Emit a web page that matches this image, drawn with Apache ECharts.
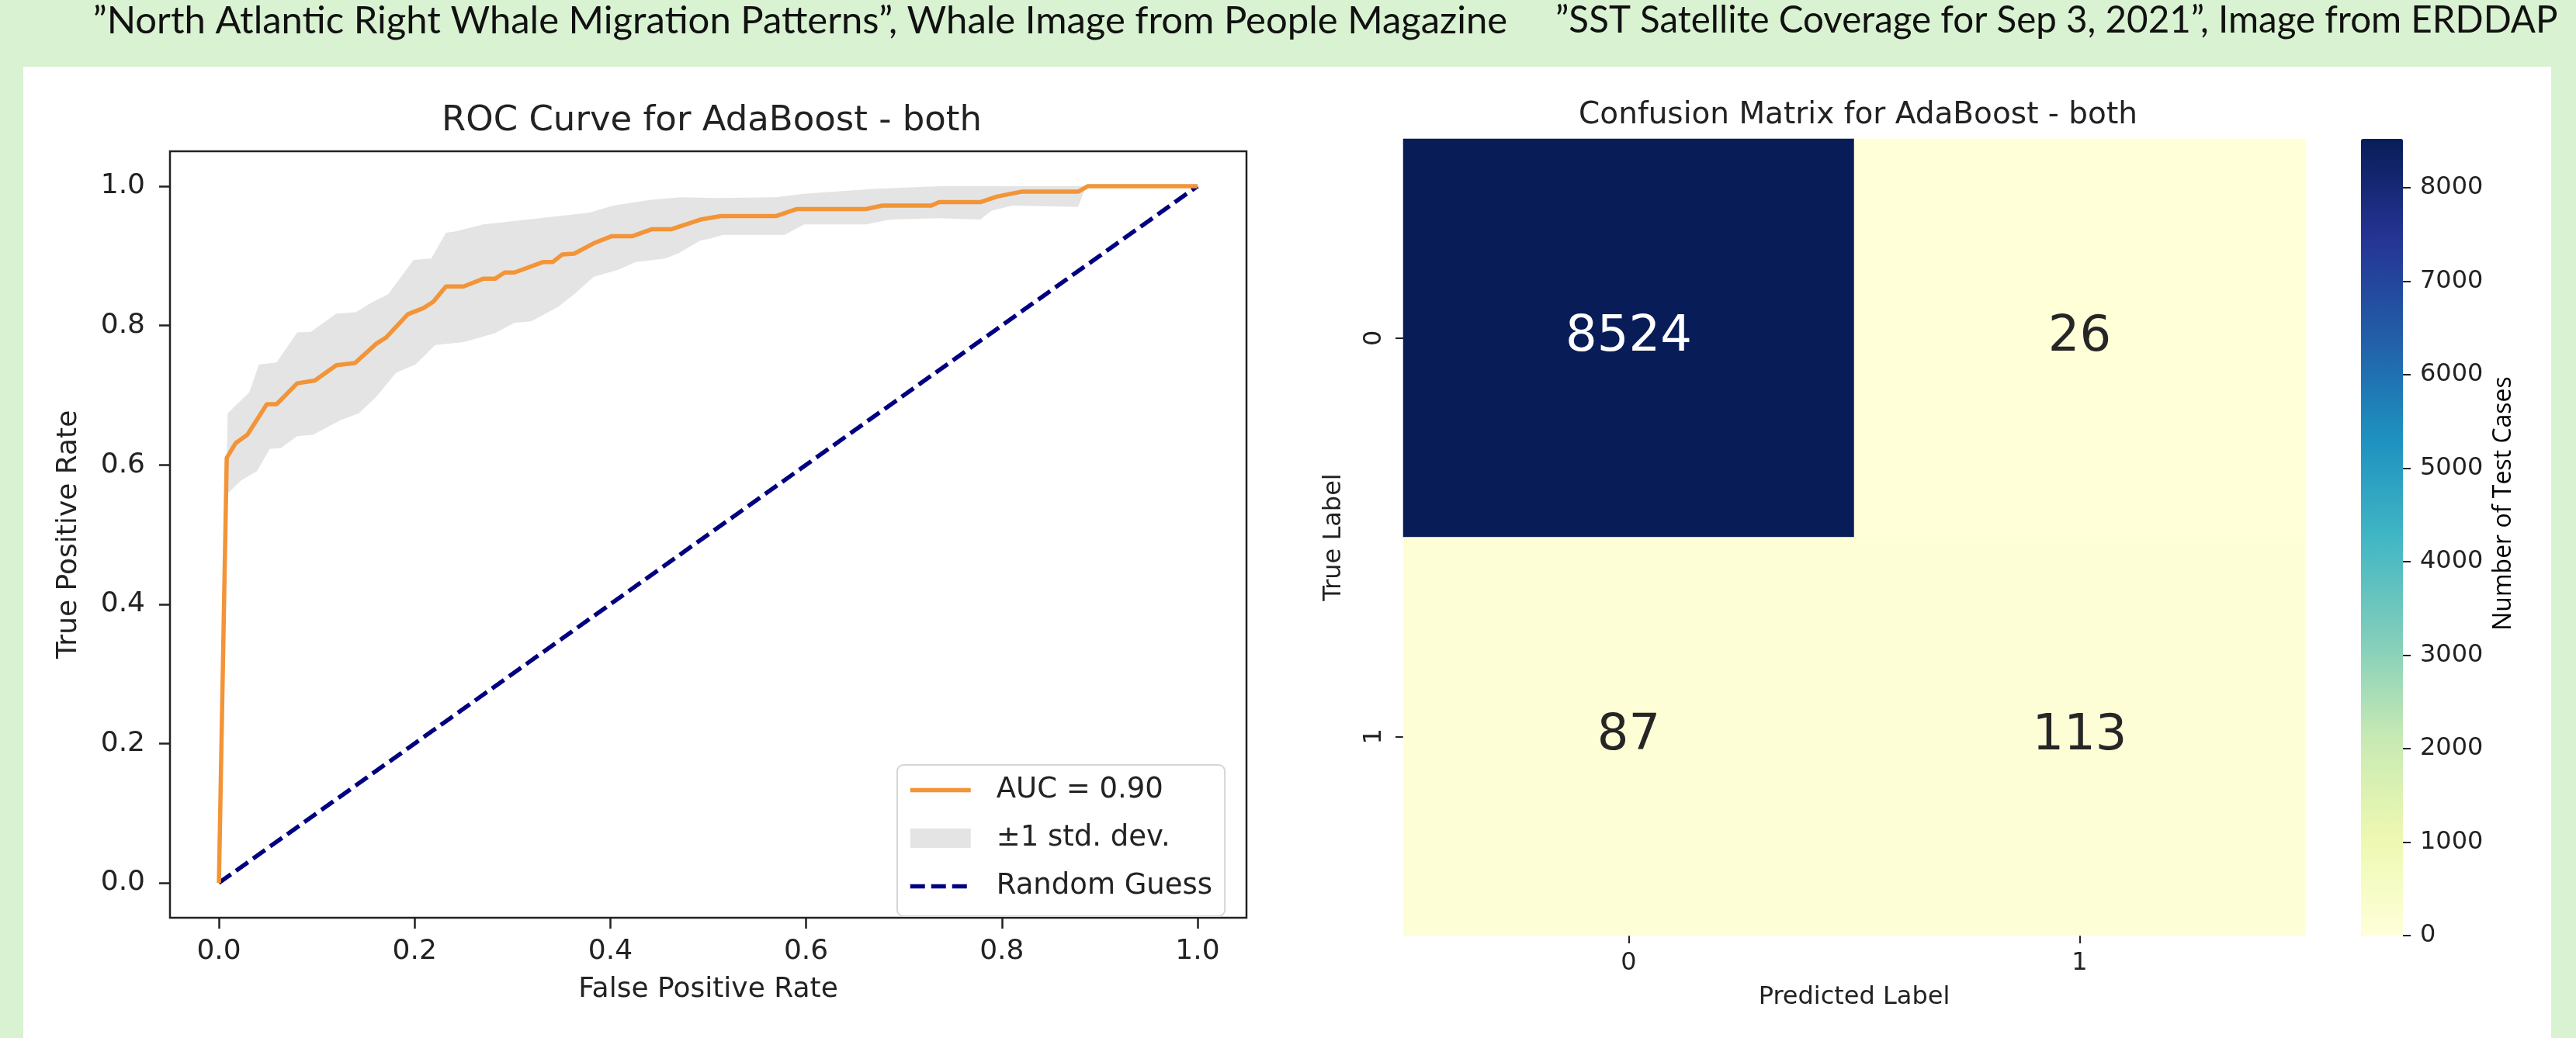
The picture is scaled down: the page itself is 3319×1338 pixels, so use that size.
<!DOCTYPE html>
<html>
<head>
<meta charset="utf-8">
<title>ROC Curve and Confusion Matrix for AdaBoost - both</title>
<script src="https://cdn.jsdelivr.net/npm/echarts@6/dist/echarts.min.js"></script>
<style>
  html, body { margin: 0; padding: 0; background: #d9f2d2; }
  #chart { width: 3319px; height: 1338px; }
</style>
</head>
<body>
<div id="chart"></div>
<script>
// mean ROC curve
const meanFpr = [0, 0.008, 0.017, 0.029, 0.049, 0.059, 0.080, 0.098, 0.120, 0.139, 0.161, 0.171, 0.193, 0.209, 0.219, 0.232, 0.250, 0.270, 0.282, 0.292, 0.302, 0.331, 0.341, 0.351, 0.363, 0.383, 0.401, 0.422, 0.442, 0.462, 0.492, 0.513, 0.569, 0.590, 0.661, 0.678, 0.728, 0.736, 0.778, 0.795, 0.820, 0.878, 0.888, 1.0];
const meanTpr = [0, 0.610, 0.631, 0.643, 0.687, 0.687, 0.717, 0.721, 0.743, 0.746, 0.774, 0.783, 0.816, 0.825, 0.834, 0.856, 0.856, 0.867, 0.867, 0.876, 0.876, 0.891, 0.891, 0.902, 0.903, 0.918, 0.928, 0.928, 0.938, 0.938, 0.952, 0.957, 0.957, 0.967, 0.967, 0.972, 0.972, 0.977, 0.977, 0.985, 0.992, 0.992, 1.0, 1.0];

// +-1 std. dev. band edges
const upperFpr = [0, 0.009, 0.031, 0.041, 0.059, 0.080, 0.094, 0.120, 0.140, 0.155, 0.173, 0.199, 0.217, 0.232, 0.242, 0.270, 0.290, 0.323, 0.379, 0.403, 0.440, 0.472, 0.509, 0.569, 0.598, 0.669, 0.736, 0.888, 1.0];
const upperTpr = [0, 0.674, 0.704, 0.744, 0.747, 0.790, 0.791, 0.817, 0.819, 0.832, 0.845, 0.894, 0.896, 0.933, 0.935, 0.945, 0.948, 0.953, 0.962, 0.972, 0.980, 0.984, 0.983, 0.984, 0.989, 0.996, 1.0, 1.0, 1.0];
const lowerFpr = [0, 0.009, 0.023, 0.039, 0.052, 0.063, 0.080, 0.096, 0.124, 0.143, 0.161, 0.181, 0.201, 0.221, 0.250, 0.282, 0.302, 0.319, 0.347, 0.363, 0.383, 0.408, 0.426, 0.456, 0.470, 0.492, 0.503, 0.515, 0.578, 0.598, 0.661, 0.686, 0.736, 0.778, 0.790, 0.811, 0.878, 0.886, 1.0];
const lowerTpr = [0, 0.559, 0.578, 0.591, 0.623, 0.624, 0.641, 0.643, 0.664, 0.674, 0.698, 0.732, 0.744, 0.772, 0.776, 0.789, 0.804, 0.806, 0.827, 0.845, 0.870, 0.880, 0.891, 0.896, 0.904, 0.922, 0.925, 0.930, 0.930, 0.945, 0.945, 0.952, 0.954, 0.952, 0.965, 0.972, 0.970, 1.0, 1.0];

const guessFpr = [0, 1];
const guessTpr = [0, 1];
const rocTicks = [0, 0.2, 0.4, 0.6, 0.8, 1.0];

// confusion matrix
const predictedLabels = ['0', '1'];
const trueLabels = ['0', '1'];
const cmTrue0 = [8524, 26];
const cmTrue1 = [87, 113];
const colorbarTicks = [0, 1000, 2000, 3000, 4000, 5000, 6000, 7000, 8000];

const headerLeft = '\u201DNorth Atlantic Right Whale Migration Patterns\u201D, Whale Image from People Magazine';
const headerRight = '\u201DSST Satellite Coverage for Sep 3, 2021\u201D, Image from ERDDAP';

const mplFont = 'DejaVu Sans';
const textColor = '#222';
const orange = '#f29437';
const navy = '#000080';
const bandGrey = '#e4e4e4';
const ylgnbu = ['#ffffd9', '#edf8b1', '#c7e9b4', '#7fcdbb', '#41b6c4', '#1d91c0', '#225ea8', '#253494', '#081d58'];

const zip = (xs, ys) => xs.map((x, i) => [x, ys[i]]);

const cmData = [];
[cmTrue0, cmTrue1].forEach((row, r) => {
  row.forEach((v, c) => {
    cmData.push({
      value: [c, r, v],
      label: { color: v > 4000 ? '#ffffff' : '#262626' }
    });
  });
});

function renderBand(params, api) {
  const pts = [];
  for (let i = 0; i < upperFpr.length; i++) pts.push(api.coord([upperFpr[i], upperTpr[i]]));
  for (let i = lowerFpr.length - 1; i >= 0; i--) pts.push(api.coord([lowerFpr[i], lowerTpr[i]]));
  return { type: 'polygon', shape: { points: pts }, style: { fill: bandGrey } };
}

const chart = echarts.init(document.getElementById('chart'));

chart.setOption({
  backgroundColor: '#d9f2d2',
  animation: false,
  graphic: [
    { type: 'rect', z: -10, shape: { x: 30, y: 86, width: 3257, height: 1260 }, style: { fill: '#ffffff' } },
    { type: 'text', style: { text: headerLeft, x: 1031, y: 27, align: 'center', verticalAlign: 'middle', font: '49px Lato', fill: '#111' } },
    { type: 'text', style: { text: headerRight, x: 2004, y: 27, align: 'left', verticalAlign: 'middle', font: '47.5px Lato', fill: '#111' } },
    { type: 'text', x: 3226, y: 649, rotation: Math.PI / 2, style: { text: 'Number of Test Cases', x: 0, y: 0, align: 'center', verticalAlign: 'middle', font: '32px "Open Sans"', fill: '#000' } }
  ],
  title: [
    { text: 'ROC Curve for AdaBoost - both', left: 912, top: 129, textAlign: 'center',
      textStyle: { fontFamily: mplFont, fontSize: 45, fontWeight: 'normal', color: textColor } },
    { text: 'Confusion Matrix for AdaBoost - both', left: 2389, top: 124, textAlign: 'center',
      textStyle: { fontFamily: mplFont, fontSize: 39, fontWeight: 'normal', color: textColor } }
  ],
  legend: {
    orient: 'vertical',
    left: 1156,
    top: 986,
    padding: [14, 16, 20, 14],
    backgroundColor: '#ffffff',
    borderColor: '#d6d6d6',
    borderWidth: 2,
    borderRadius: 8,
    itemWidth: 78,
    itemHeight: 25,
    itemGap: 25,
    itemStyle: { opacity: 0 },
    textStyle: { fontFamily: mplFont, fontSize: 37, color: textColor, lineHeight: 30, padding: [0, 0, 0, 28] },
    data: [
      { name: 'AUC = 0.90', lineStyle: { width: 5.5, color: orange } },
      { name: '\u00B11 std. dev.', icon: 'rect', itemStyle: { color: bandGrey, opacity: 1 } },
      { name: 'Random Guess', lineStyle: { width: 5.5, color: navy, type: [19, 8] } }
    ]
  },
  grid: [
    { left: 219, top: 195, width: 1387, height: 988, show: true, borderColor: '#222', borderWidth: 2.5, backgroundColor: '#ffffff' },
    { left: 1808, top: 179, width: 1162, height: 1027 },
    { left: 3042, top: 179, width: 54, height: 1027 }
  ],
  xAxis: [
    {
      gridIndex: 0, type: 'value', min: -0.05, max: 1.05,
      name: 'False Positive Rate', nameLocation: 'middle', nameGap: 75,
      nameTextStyle: { fontFamily: mplFont, fontSize: 36, color: textColor },
      axisLine: { show: false, onZero: false },
      axisTick: { show: true, length: 14, customValues: rocTicks, lineStyle: { color: '#222', width: 2.5 } },
      axisLabel: { customValues: rocTicks, margin: 26, fontFamily: mplFont, fontSize: 36, color: textColor, formatter: v => v.toFixed(1) },
      splitLine: { show: false }
    },
    {
      gridIndex: 1, type: 'category', data: predictedLabels,
      name: 'Predicted Label', nameLocation: 'middle', nameGap: 64,
      nameTextStyle: { fontFamily: mplFont, fontSize: 32, color: textColor },
      axisLine: { show: false, onZero: false },
      axisTick: { show: true, alignWithLabel: true, length: 10, lineStyle: { color: '#222', width: 2 } },
      axisLabel: { margin: 20, fontFamily: mplFont, fontSize: 32, color: textColor },
      splitArea: { show: false }
    },
    { gridIndex: 2, type: 'value', show: false, min: 0, max: 1 }
  ],
  yAxis: [
    {
      gridIndex: 0, type: 'value', min: -0.05, max: 1.05,
      name: 'True Positive Rate', nameLocation: 'middle', nameGap: 112, nameRotate: 90,
      nameTextStyle: { fontFamily: mplFont, fontSize: 36, color: textColor },
      axisLine: { show: false, onZero: false },
      axisTick: { show: true, length: 14, customValues: rocTicks, lineStyle: { color: '#222', width: 2.5 } },
      axisLabel: { customValues: rocTicks, margin: 32, fontFamily: mplFont, fontSize: 36, color: textColor, formatter: v => v.toFixed(1) },
      splitLine: { show: false }
    },
    {
      gridIndex: 1, type: 'category', data: trueLabels, inverse: true,
      name: 'True Label', nameLocation: 'middle', nameGap: 73, nameRotate: 90,
      nameTextStyle: { fontFamily: mplFont, fontSize: 32, color: textColor },
      axisLine: { show: false, onZero: false },
      axisTick: { show: true, alignWithLabel: true, length: 10, lineStyle: { color: '#222', width: 2 } },
      axisLabel: { margin: 21, rotate: 90, fontFamily: mplFont, fontSize: 32, color: textColor },
      splitArea: { show: false }
    },
    {
      gridIndex: 2, type: 'value', position: 'right', min: 0, max: 8524,
      axisLine: { show: false, onZero: false },
      axisTick: { show: true, length: 10, customValues: colorbarTicks, lineStyle: { color: '#222', width: 2 } },
      axisLabel: { customValues: colorbarTicks, margin: 22, fontFamily: mplFont, fontSize: 32, color: textColor, formatter: v => String(v) },
      splitLine: { show: false }
    }
  ],
  visualMap: {
    type: 'continuous',
    seriesIndex: 3,
    min: 0,
    max: 8524,
    calculable: false,
    hoverLink: false,
    left: 3042,
    top: 179,
    itemWidth: 54,
    itemHeight: 1027,
    padding: 0,
    text: null,
    inRange: { color: ylgnbu }
  },
  series: [
    {
      name: '\u00B11 std. dev.',
      type: 'custom',
      xAxisIndex: 0, yAxisIndex: 0,
      renderItem: renderBand,
      itemStyle: { color: bandGrey },
      data: [[0, 0]],
      z: 1,
      silent: true
    },
    {
      name: 'AUC = 0.90',
      type: 'line',
      xAxisIndex: 0, yAxisIndex: 0,
      data: zip(meanFpr, meanTpr),
      showSymbol: false,
      symbol: 'none',
      lineStyle: { color: orange, width: 5.5 },
      itemStyle: { color: orange },
      z: 3
    },
    {
      name: 'Random Guess',
      type: 'line',
      xAxisIndex: 0, yAxisIndex: 0,
      data: zip(guessFpr, guessTpr),
      showSymbol: false,
      symbol: 'none',
      lineStyle: { color: navy, width: 5.5, type: [19, 8] },
      itemStyle: { color: navy },
      z: 2
    },
    {
      name: 'Confusion Matrix',
      type: 'heatmap',
      xAxisIndex: 1, yAxisIndex: 1,
      data: cmData,
      label: { show: true, fontFamily: mplFont, fontSize: 64, formatter: p => String(p.value[2]) },
      emphasis: { disabled: true }
    }
  ]
});
</script>
</body>
</html>
